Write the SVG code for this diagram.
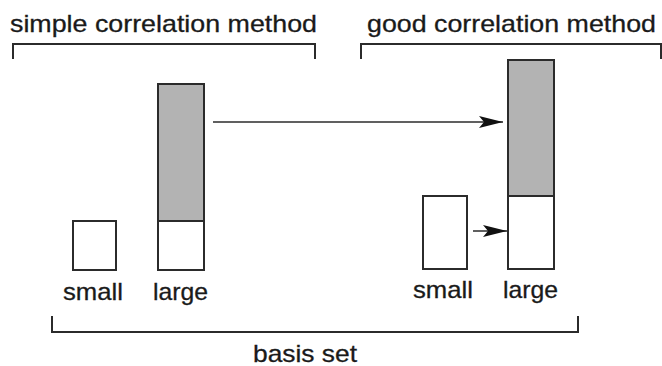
<svg xmlns="http://www.w3.org/2000/svg" width="662" height="366" viewBox="0 0 662 366">
<defs>
<style>
.box{stroke:#2b2b2b;stroke-width:2;fill:#fff}
.gray{fill:#b3b3b3}
.br{stroke:#2b2b2b;stroke-width:2;fill:none}
.ln{stroke:#2b2b2b;stroke-width:1.6;fill:none}
text{font-family:"Liberation Sans",Arial,sans-serif;font-size:24px;fill:#1a1a1a;stroke:#1a1a1a;stroke-width:0.3}
</style>
<marker id="ah" markerWidth="24" markerHeight="14" refX="24" refY="7" orient="auto" markerUnits="userSpaceOnUse">
<path d="M0,1 L24,7 L0,13 L5,7 Z" fill="#111"/>
</marker>
</defs>
<rect width="662" height="366" fill="#fff"/>
<g id="label-simple">
<text x="10" y="32" textLength="307" lengthAdjust="spacingAndGlyphs">simple correlation method</text>
<path class="br" d="M13,59 V44 H315 V59"/>
</g>
<g id="label-good">
<text x="367" y="32" textLength="289" lengthAdjust="spacingAndGlyphs">good correlation method</text>
<path class="br" d="M361,59 V44 H661 V59"/>
</g>
<g id="simple-small">
<rect class="box" x="73" y="221" width="43" height="49"/>
<text x="63" y="300" textLength="60" lengthAdjust="spacingAndGlyphs">small</text>
</g>
<g id="simple-large">
<rect class="box gray" x="158" y="84" width="46" height="137"/>
<rect class="box" x="158" y="221" width="46" height="49"/>
<text x="153" y="300" textLength="55" lengthAdjust="spacingAndGlyphs">large</text>
</g>
<g id="good-small">
<rect class="box" x="423" y="196" width="44" height="73"/>
<text x="413" y="298" textLength="60" lengthAdjust="spacingAndGlyphs">small</text>
</g>
<g id="good-large">
<rect class="box gray" x="508" y="60" width="46" height="136"/>
<rect class="box" x="508" y="196" width="46" height="73"/>
<text x="503" y="298" textLength="55" lengthAdjust="spacingAndGlyphs">large</text>
</g>
<g id="basis-set">
<path class="br" d="M52,316 V332 H578 V316"/>
<text x="253" y="362" textLength="104" lengthAdjust="spacingAndGlyphs">basis set</text>
</g>
<g id="connectors">
<line class="ln" x1="213" y1="122" x2="503" y2="122" marker-end="url(#ah)"/>
<line class="ln" x1="473" y1="231" x2="507" y2="231" marker-end="url(#ah)"/>
</g>
</svg>
